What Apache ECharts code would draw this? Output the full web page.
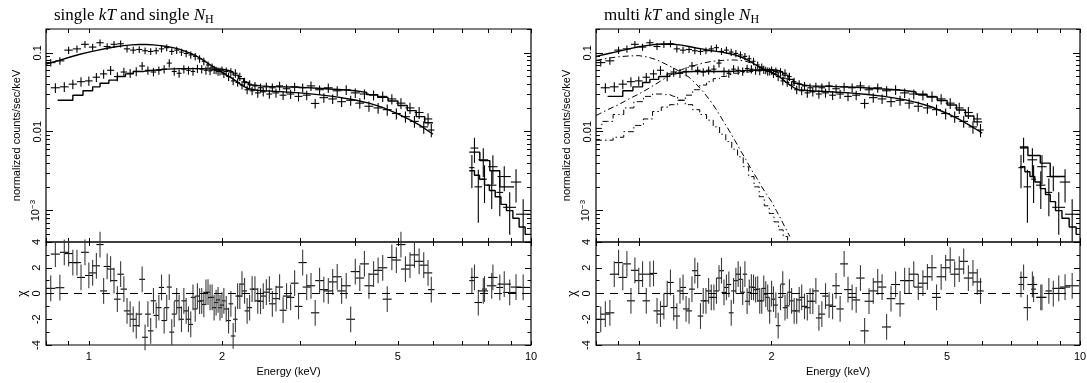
<!DOCTYPE html>
<html><head><meta charset="utf-8">
<script src="https://cdn.jsdelivr.net/npm/echarts@6/dist/echarts.min.js"></script>
<style>html,body{margin:0;padding:0;background:#fff}#c{width:1087px;height:383px}</style>
</head><body><div id="c"></div>
<script>
// ---------------- data ----------------
const panelTitles = ['single {i|kT} and single {i|N}{sub|H}', 'multi {i|kT} and single {i|N}{sub|H}'];

// data group A (brighter below 2 keV)
const energyA = [0.82,0.86,0.90,0.94,0.98,1.02,1.06,1.10,1.14,1.18,
  1.22,1.26,1.30,1.34,1.38,1.42,1.46,1.50,1.54,1.58,
  1.62,1.66,1.70,1.74,1.78,1.82,1.86,1.90,1.94,1.98,
  2.02,2.07,2.12,2.17,2.22,2.28,2.34,2.41,2.48,2.56,
  2.65,2.75,2.86,2.98,3.11,3.25,3.40,3.56,3.73,3.91,
  4.10,4.30,4.51,4.73,4.96,5.20,5.45,5.72,5.95];
const halfWidthA = [0.02,0.02,0.02,0.02,0.02,0.02,0.02,0.02,0.02,0.02,
  0.02,0.02,0.02,0.02,0.02,0.02,0.02,0.02,0.02,0.02,
  0.02,0.02,0.02,0.02,0.02,0.02,0.02,0.02,0.02,0.02,
  0.02,0.025,0.025,0.025,0.025,0.03,0.03,0.035,0.035,0.04,
  0.045,0.05,0.055,0.06,0.065,0.07,0.075,0.08,0.085,0.09,
  0.095,0.1,0.105,0.11,0.115,0.12,0.125,0.13,0.1];
const countsA = [0.075,0.079,0.108,0.112,0.128,0.118,0.134,0.12,0.128,0.13,
  0.112,0.108,0.11,0.106,0.104,0.106,0.112,0.116,0.104,0.108,
  0.102,0.098,0.094,0.09,0.084,0.078,0.07,0.066,0.06,0.058,
  0.054,0.05,0.044,0.042,0.039,0.034,0.033,0.031,0.032,0.03,
  0.031,0.029,0.03,0.028,0.029,0.0228,0.027,0.026,0.024,0.025,
  0.023,0.021,0.02,0.019,0.017,0.0155,0.0135,0.0115,0.0105];
const relErrA = [0.11,0.11,0.105,0.105,0.1,0.1,0.1,0.1,0.1,0.1,
  0.1,0.1,0.1,0.1,0.1,0.1,0.1,0.1,0.1,0.105,
  0.105,0.105,0.105,0.105,0.11,0.11,0.11,0.11,0.11,0.115,
  0.115,0.12,0.12,0.12,0.12,0.125,0.125,0.13,0.13,0.13,
  0.13,0.13,0.135,0.135,0.135,0.14,0.14,0.14,0.145,0.145,
  0.15,0.15,0.155,0.16,0.16,0.165,0.17,0.18,0.19];

// data group B (fainter below 2 keV)
const energyB = [0.84,0.88,0.92,0.96,1.00,1.04,1.08,1.12,1.16,1.20,
  1.24,1.28,1.32,1.36,1.40,1.44,1.48,1.52,1.56,1.60,
  1.64,1.68,1.72,1.76,1.80,1.84,1.88,1.92,1.96,2.00,
  2.045,2.095,2.145,2.195,2.25,2.31,2.375,2.445,2.52,2.60,
  2.70,2.80,2.92,3.045,3.18,3.325,3.48,3.645,3.82,4.005,
  4.2,4.405,4.62,4.845,5.08,5.325,5.585,5.85];
const halfWidthB = [0.02,0.02,0.02,0.02,0.02,0.02,0.02,0.02,0.02,0.02,
  0.02,0.02,0.02,0.02,0.02,0.02,0.02,0.02,0.02,0.02,
  0.02,0.02,0.02,0.02,0.02,0.02,0.02,0.02,0.02,0.02,
  0.0225,0.025,0.025,0.025,0.0275,0.03,0.0325,0.035,0.04,0.045,
  0.05,0.055,0.06,0.065,0.07,0.075,0.08,0.085,0.09,0.095,
  0.1,0.105,0.11,0.115,0.12,0.125,0.13,0.13];
const countsB = [0.036,0.037,0.04,0.043,0.044,0.049,0.054,0.06,0.05,0.057,
  0.055,0.058,0.068,0.06,0.057,0.06,0.062,0.074,0.058,0.055,
  0.062,0.06,0.058,0.063,0.062,0.06,0.059,0.061,0.058,0.06,
  0.058,0.057,0.055,0.05,0.043,0.04,0.038,0.036,0.037,0.036,
  0.038,0.035,0.037,0.036,0.038,0.034,0.036,0.033,0.034,0.031,
  0.03,0.029,0.028,0.026,0.023,0.02,0.0175,0.0145];
const relErrB = [0.14,0.14,0.14,0.135,0.135,0.13,0.13,0.13,0.13,0.13,
  0.13,0.13,0.12,0.12,0.12,0.12,0.12,0.12,0.12,0.12,
  0.12,0.12,0.12,0.12,0.12,0.12,0.12,0.12,0.12,0.12,
  0.12,0.12,0.12,0.12,0.12,0.125,0.125,0.13,0.13,0.13,
  0.13,0.13,0.13,0.13,0.135,0.135,0.135,0.14,0.14,0.14,
  0.145,0.145,0.15,0.15,0.155,0.16,0.17,0.18];

// high-energy bins (7-10 keV)
const energyAHi = [7.35,7.6,7.85,8.15,8.5,8.95,9.6];
const halfWidthAHi = [0.1,0.15,0.1,0.2,0.15,0.3,0.35];
const countsAHi = [0.0035,0.002,0.0025,0.0021,0.0017,0.0011,0.0009];
const relErrAHi = [0.45,0.65,0.5,0.5,0.5,0.55,0.55];
const energyBHi = [7.45,7.8,8.2,8.7,9.25];
const halfWidthBHi = [0.15,0.2,0.2,0.3,0.25];
const countsBHi = [0.0062,0.0044,0.0036,0.0027,0.0023];
const relErrBHi = [0.35,0.4,0.4,0.35,0.45];

// residuals (chi) for each panel
const chiSingleA = [0.4,0.45,3.1,2.4,3.2,1.6,3.8,2.1,1.0,1.5,
  -1.35,-2.0,-1.6,-3.4,-2.9,-1.7,0.47,-1.1,-3.0,-0.57,
  -2.0,-1.35,-2.4,-1.2,-0.6,-0.85,0.1,-0.3,-0.7,-1.1,
  -0.57,-2.1,-3.3,-0.2,0.73,-1.35,0.34,-0.57,-0.2,0.34,
  -0.4,-1.3,-0.3,-1.0,0.5,-1.5,0.3,0.9,0.2,-2.0,
  1.2,0.6,1.8,-0.44,2.6,1.9,3.0,2.2,0.3];
const chiSingleB = [3.06,3.2,2.4,1.25,1.4,2.15,0.2,1.9,-0.44,0.34,
  -1.6,-2.5,1.1,-1.6,-0.57,-1.1,-2.1,0.5,-1.6,-1.1,
  -0.57,-2.0,-0.3,-0.2,-0.57,0.08,-0.31,-1.1,-0.5,-0.9,
  -1.2,-0.8,-2.0,-0.2,0.2,-1.1,0.34,-0.6,0.1,-0.8,
  0.5,-0.2,0.8,2.4,0.6,1.0,0.2,1.3,0.6,1.7,
  2.3,1.5,2.0,2.8,3.8,2.2,2.5,1.6];
const chiSingleAHi = [1.0,-0.7,0.34,0.6,0.47,0.08,0.47];
const chiSingleBHi = [1.25,0.2,1.25,0.73,0.5];
const chiMultiA = [-2.0,-1.5,2.4,2.3,1.8,1.5,1.5,-1.35,-1.0,0.86,
  -1.75,0.47,-1.35,1.77,-1.75,-0.57,-0.3,0.2,1.77,0.47,
  -1.5,1.0,1.1,1.5,0.08,0.47,0.34,-0.57,-0.05,-1.35,
  -0.44,-2.5,0.73,-0.96,-0.57,-1.35,-0.3,-1.1,-0.6,-1.9,
  -0.2,-1.0,-1.2,0.3,-0.5,-2.9,0.2,0.5,-0.4,-0.8,
  1.0,0.5,1.3,-0.3,2.0,1.5,2.5,1.6,0.2];
const chiMultiB = [-1.6,1.5,1.25,-0.57,1.0,-0.57,1.56,-1.6,0.0,-1.1,
  0.2,-1.2,0.34,1.4,-0.57,0.2,-0.3,1.2,0.08,0.7,
  0.2,1.5,0.1,-0.6,0.5,0.3,-0.57,0.4,-0.3,0.0,
  -0.9,-0.3,-1.1,0.1,-1.35,-0.5,-1.0,-0.6,0.2,-1.6,
  -0.9,0.6,2.3,-0.3,1.2,-0.6,0.9,-2.6,0.7,1.0,
  1.5,0.8,2.0,1.3,2.6,1.9,1.2,0.9];
const chiMultiAHi = [0.7,-1.1,0.34,-0.3,0.2,0.4,0.6];
const chiMultiBHi = [1.25,0.7,-0.3,0.0,0.5];

// models
const modelEnergy = [0.80,0.85,0.90,0.95,1.00,1.05,1.10,1.15,1.20,1.25,
  1.30,1.35,1.40,1.45,1.50,1.55,1.60,1.65,1.70,1.75,
  1.80,1.85,1.90,1.95,2.00,2.05,2.10,2.15,2.20,2.25,
  2.30,2.40,2.50,2.70,3.00,3.30,3.60,4.00,4.30,4.60,5.00,5.30,5.60,5.90,6.00];
const singleModelA = [0.072,0.079,0.087,0.095,0.102,0.108,0.114,0.119,0.123,0.126,
  0.127,0.127,0.126,0.123,0.12,0.116,0.111,0.105,0.098,0.091,
  0.083,0.075,0.068,0.062,0.057,0.052,0.048,0.044,0.04,0.037,
  0.035,0.0335,0.033,0.0322,0.031,0.0295,0.0278,0.0252,0.023,0.0205,0.0168,0.0143,0.0121,0.0099,0.0093];
const multiModelA = [0.09,0.097,0.104,0.112,0.119,0.124,0.128,0.129,0.128,0.125,
  0.12,0.115,0.111,0.107,0.104,0.101,0.098,0.094,0.089,0.083,
  0.076,0.069,0.064,0.06,0.057,0.053,0.048,0.043,0.039,0.036,
  0.034,0.0333,0.0328,0.032,0.031,0.0296,0.028,0.0255,0.0232,0.0207,0.017,0.0145,0.0122,0.0102,0.0096];
const stepEdgesB = [0.85,0.92,0.97,1.02,1.06,1.11,1.16,1.21,1.26,1.33,
  1.40,1.50,1.60,1.70,1.80,1.90,2.00,2.06,2.12,2.18,
  2.24,2.30,2.36,2.45,2.55,2.70,2.90,3.10,3.30,3.50,
  3.75,4.00,4.25,4.50,4.75,5.00,5.25,5.50,5.75,6.00];
const singleModelB = [0.025,0.029,0.033,0.037,0.041,0.045,0.05,0.054,0.058,0.06,
  0.062,0.063,0.063,0.063,0.062,0.062,0.06,0.057,0.052,0.047,
  0.042,0.039,0.038,0.0375,0.037,0.0368,0.0362,0.0355,0.0348,0.034,
  0.033,0.0315,0.0295,0.0272,0.0245,0.0215,0.0185,0.0155,0.013];
const multiModelB = [0.028,0.033,0.037,0.042,0.046,0.05,0.054,0.057,0.058,0.058,
  0.058,0.058,0.059,0.06,0.061,0.061,0.06,0.057,0.052,0.046,
  0.041,0.039,0.038,0.0378,0.0375,0.037,0.0365,0.0358,0.035,0.0342,
  0.0332,0.0318,0.0298,0.0275,0.0248,0.0218,0.0188,0.0158,0.0133];
const singleHiEdgesA = [7.25,7.45,7.65,7.85,8.05,8.3,8.55,8.8,9.1,9.4,9.7,10.0];
const singleHiA = [0.0032,0.0028,0.0025,0.0021,0.0018,0.0015,0.0012,0.001,0.0008,0.00062,0.0005];
const multiHiEdgesA = [7.31,7.5,7.7,7.9,8.13,8.35,8.56,8.8,9.1,9.45,9.8,10.0];
const multiHiA = [0.0036,0.0031,0.0027,0.0023,0.0019,0.0016,0.0013,0.001,0.0008,0.00062,0.0005];
const singleHiEdgesB = [7.25,7.66,8.07,8.5,9.15];
const singleHiB = [0.0055,0.0043,0.0032,0.002];
const multiHiEdgesB = [7.31,7.62,8.13,8.56,9.25];
const multiHiB = [0.0064,0.005,0.004,0.0027];

// model components of the multi-kT fit
const compEnergy = [0.80,0.85,0.90,0.95,1.00,1.05,1.10,1.15,1.20,1.25,
  1.30,1.35,1.40,1.45,1.50,1.55,1.60,1.65,1.70,1.75,
  1.80,1.85,1.90,1.95,2.00,2.05,2.10,2.15,2.20];
const coolA = [0.08,0.085,0.089,0.091,0.092,0.088,0.081,0.072,0.064,0.056,
  0.049,0.04,0.032,0.025,0.019,0.014,0.0105,0.0078,0.0058,0.0044,
  0.0033,0.0026,0.002,0.0016,0.0013,0.001,0.00078,0.0006,0.00047];
const coolB = [0.011,0.0135,0.0165,0.02,0.024,0.028,0.03,0.0295,0.028,0.025,
  0.022,0.019,0.0165,0.014,0.0115,0.0093,0.0075,0.006,0.0048,0.0036,
  0.0027,0.002,0.0015,0.00115,0.00092,0.00072,0.00057,0.00047,0.00038];
const hotA = [0.016,0.019,0.022,0.026,0.03,0.035,0.041,0.048,0.055,0.061,
  0.066,0.07,0.074,0.077,0.079,0.08,0.081,0.081,0.08,0.078,
  0.074,0.068,0.063,0.059,0.056,0.052,0.048,0.043,0.039];
const hotB = [0.0078,0.0078,0.0085,0.01,0.012,0.0145,0.018,0.0205,0.022,0.025,
  0.029,0.034,0.039,0.043,0.047,0.05,0.053,0.055,0.056,0.057,
  0.058,0.059,0.06,0.06,0.059,0.056,0.052,0.047,0.043];

// axes
const X_MIN = 0.8, X_MAX = 10, Y_MIN = 4e-4, Y_MAX = 0.2, CHI_MIN = -4, CHI_MAX = 4;
const xTicks = [0.8,0.9,1,2,3,4,5,6,7,8,9,10];
const xLabels = [1,2,5,10];
const yMajor = [0.001,0.01,0.1];
const yMinor = [0.0004,0.0005,0.0006,0.0007,0.0008,0.0009,0.002,0.003,0.004,0.005,0.006,0.007,0.008,0.009,
  0.02,0.03,0.04,0.05,0.06,0.07,0.08,0.09,0.2];

// ---------------- chart ----------------
const FONT = "'Liberation Sans', Arial, sans-serif";
const SERIF = "'Liberation Serif', 'Times New Roman', serif";
const BLACK = '#000';
const L10 = v => Math.log10(v);

const panels = [
  {left: 46, width: 485, title: panelTitles[0], modelA: singleModelA, modelB: singleModelB,
   hiEdgesA: singleHiEdgesA, hiA: singleHiA, hiEdgesB: singleHiEdgesB, hiB: singleHiB,
   chiA: chiSingleA, chiB: chiSingleB, chiAHi: chiSingleAHi, chiBHi: chiSingleBHi, comps: false},
  {left: 596, width: 484, title: panelTitles[1], modelA: multiModelA, modelB: multiModelB,
   hiEdgesA: multiHiEdgesA, hiA: multiHiA, hiEdgesB: multiHiEdgesB, hiB: multiHiB,
   chiA: chiMultiA, chiB: chiMultiB, chiAHi: chiMultiAHi, chiBHi: chiMultiBHi, comps: true}
];
const TOP = 29, TOP_H = 213, BOT_H = 103;

const option = {animation: false, backgroundColor: '#fff', title: [], grid: [], xAxis: [], yAxis: [], series: []};
const tickLine = {color: BLACK, width: 1};
const labelFont = {color: BLACK, fontFamily: FONT, fontSize: 11};
const noLine = {show: false, onZero: false};

function addX(obj) { option.xAxis.push(obj); return option.xAxis.length - 1; }
function addY(obj) { option.yAxis.push(obj); return option.yAxis.length - 1; }

function xTickAxis(g, pos, withLabels) {
  return {type: 'value', gridIndex: g, position: pos, min: L10(X_MIN), max: L10(X_MAX),
    axisLine: noLine, splitLine: {show: false},
    axisTick: {show: true, inside: true, length: 4, customValues: xTicks.map(L10), lineStyle: tickLine},
    axisLabel: withLabels ? Object.assign({show: true, customValues: xLabels.map(L10), margin: 6,
      formatter: v => String(Math.round(Math.pow(10, v)))}, labelFont) : {show: false},
    name: withLabels ? 'Energy (keV)' : '', nameLocation: 'middle', nameGap: 21,
    nameTextStyle: labelFont};
}
function yLogTickAxis(g, pos, values, len, withLabels) {
  return {type: 'value', gridIndex: g, position: pos, min: L10(Y_MIN), max: L10(Y_MAX),
    axisLine: noLine, splitLine: {show: false},
    axisTick: {show: true, inside: true, length: len, customValues: values.map(L10), lineStyle: tickLine},
    axisLabel: withLabels ? Object.assign({show: true, customValues: values.map(L10), rotate: 90, margin: 3,
      formatter: v => (Math.round(v) === -1 ? '0.1' : Math.round(v) === -2 ? '0.01' : '10{sup|−3}'),
      rich: {sup: {fontSize: 8, fontFamily: FONT, color: BLACK, verticalAlign: 'top', padding: [0, 0, 6, 0]}}}, labelFont) : {show: false},
    name: withLabels ? 'normalized counts/sec/keV' : '', nameLocation: 'middle', nameGap: 24, nameRotate: 90,
    nameTextStyle: labelFont};
}
function chiAxis(g, pos, withLabels) {
  return {type: 'value', gridIndex: g, position: pos, min: CHI_MIN, max: CHI_MAX, interval: 2,
    axisLine: noLine, splitLine: {show: false},
    axisTick: {show: true, inside: true, length: 6, lineStyle: tickLine},
    minorTick: {show: true, splitNumber: 2, length: 3.5, lineStyle: tickLine},
    minorSplitLine: {show: false},
    axisLabel: withLabels ? Object.assign({show: true, rotate: 90, margin: 4}, labelFont) : {show: false},
    name: withLabels ? 'χ' : '', nameLocation: 'middle', nameGap: 17, nameRotate: 90,
    nameTextStyle: Object.assign({}, labelFont, {fontSize: 12})};
}

// logY: lower error end must stay positive on a log axis
function crossRender(logY, fixedErr, vColor) {
  return function (params, api) {
    const e = api.value(0), v = api.value(1), hw = api.value(2);
    const err = fixedErr != null ? fixedErr : api.value(3);
    const c = api.coord([e, v]);
    const l = api.coord([e - hw, v]), r = api.coord([e + hw, v]);
    let lo = v - err;
    if (logY && lo <= 0) lo = v * 1e-3;
    let t = api.coord([e, v + err])[1], b = api.coord([e, lo])[1];
    if (logY) {
      const cs = params.coordSys;
      t = Math.max(t, cs.y); b = Math.min(b, cs.y + cs.height);
    }
    return {type: 'group', children: [
      {type: 'line', shape: {x1: l[0], y1: c[1], x2: r[0], y2: c[1]}, style: {stroke: BLACK, lineWidth: 1.1}},
      {type: 'line', shape: {x1: c[0], y1: t, x2: c[0], y2: b}, style: {stroke: vColor || BLACK, lineWidth: 1.1}}
    ]};
  };
}
function crossRows(E, hw, y, rel) { return E.map((e, i) => [e, y[i], hw[i], y[i] * rel[i]]); }
function chiRows(E, hw, chi) { return E.map((e, i) => [e, chi[i], hw[i]]); }
function stepRows(edges, vals) { return edges.map((e, i) => [e, vals[Math.min(i, vals.length - 1)]]); }
function pairRows(E, vals) { return E.map((e, i) => [e, vals[i]]); }

panels.forEach((p, k) => {
  option.title.push({text: p.title, left: p.left + 3, top: 0,
    textStyle: {fontFamily: SERIF, fontSize: 17, fontWeight: 'normal', color: BLACK, lineHeight: 21,
      rich: {i: {fontFamily: SERIF, fontStyle: 'italic', fontSize: 17, color: BLACK, lineHeight: 21},
             sub: {fontFamily: SERIF, fontSize: 12, color: BLACK, verticalAlign: 'bottom', lineHeight: 13}}}});

  const gT = option.grid.length;
  option.grid.push({left: p.left, top: TOP, width: p.width, height: TOP_H, show: true,
    borderColor: BLACK, borderWidth: 1.2, backgroundColor: 'transparent', containLabel: false, outerBoundsMode: 'none'});
  const gB = option.grid.length;
  option.grid.push({left: p.left, top: TOP + TOP_H, width: p.width, height: BOT_H, show: true,
    borderColor: BLACK, borderWidth: 1.2, backgroundColor: 'transparent', containLabel: false, outerBoundsMode: 'none'});

  // top plot axes
  const xT = addX({type: 'log', gridIndex: gT, min: X_MIN, max: X_MAX, show: false, axisLine: noLine});
  addX(xTickAxis(gT, 'bottom', false));
  addX(xTickAxis(gT, 'top', false));
  const yT = addY({type: 'log', gridIndex: gT, min: Y_MIN, max: Y_MAX, show: false, axisLine: noLine});
  addY(yLogTickAxis(gT, 'left', yMajor, 7, true));
  addY(yLogTickAxis(gT, 'left', yMinor, 4, false));
  addY(yLogTickAxis(gT, 'right', yMajor, 7, false));
  addY(yLogTickAxis(gT, 'right', yMinor, 4, false));

  // residual axes
  const xB = addX({type: 'log', gridIndex: gB, min: X_MIN, max: X_MAX, show: false, axisLine: noLine});
  addX(xTickAxis(gB, 'bottom', true));
  addX(xTickAxis(gB, 'top', false));
  const yB = addY(chiAxis(gB, 'left', true));
  addY(chiAxis(gB, 'right', false));

  const lineBase = {type: 'line', xAxisIndex: xT, yAxisIndex: yT, showSymbol: false, symbol: 'none',
    silent: true, clip: true, z: 2};
  const solid = {color: BLACK, width: 1.4};

  // data crosses
  option.series.push({type: 'custom', xAxisIndex: xT, yAxisIndex: yT, silent: true, z: 3,
    renderItem: crossRender(true), encode: {x: 0, y: 1},
    data: crossRows(energyA, halfWidthA, countsA, relErrA).concat(crossRows(energyAHi, halfWidthAHi, countsAHi, relErrAHi))});
  option.series.push({type: 'custom', xAxisIndex: xT, yAxisIndex: yT, silent: true, z: 3,
    renderItem: crossRender(true), encode: {x: 0, y: 1},
    data: crossRows(energyB, halfWidthB, countsB, relErrB).concat(crossRows(energyBHi, halfWidthBHi, countsBHi, relErrBHi))});

  // models
  option.series.push(Object.assign({}, lineBase, {lineStyle: solid, data: pairRows(modelEnergy, p.modelA)}));
  option.series.push(Object.assign({}, lineBase, {lineStyle: solid, step: 'end', data: stepRows(stepEdgesB, p.modelB)}));
  option.series.push(Object.assign({}, lineBase, {lineStyle: solid, step: 'end', data: stepRows(p.hiEdgesA, p.hiA)}));
  option.series.push(Object.assign({}, lineBase, {lineStyle: solid, step: 'end', data: stepRows(p.hiEdgesB, p.hiB)}));

  if (p.comps) {
    const dashDot = {color: BLACK, width: 1, type: [6, 3, 1.5, 3]};
    option.series.push(Object.assign({}, lineBase, {lineStyle: dashDot, data: pairRows(compEnergy, coolA)}));
    option.series.push(Object.assign({}, lineBase, {lineStyle: dashDot, step: 'middle', data: pairRows(compEnergy, coolB)}));
    option.series.push(Object.assign({}, lineBase, {lineStyle: dashDot, data: pairRows(compEnergy, hotA)}));
    option.series.push(Object.assign({}, lineBase, {lineStyle: dashDot, step: 'middle', data: pairRows(compEnergy, hotB)}));
  }

  // residuals
  option.series.push({type: 'custom', xAxisIndex: xB, yAxisIndex: yB, silent: true, z: 3,
    renderItem: crossRender(false, 1, '#3a3a3a'), encode: {x: 0, y: 1},
    data: chiRows(energyA, halfWidthA, p.chiA).concat(chiRows(energyAHi, halfWidthAHi, p.chiAHi)),
    markLine: {silent: true, symbol: 'none', label: {show: false},
      lineStyle: {color: BLACK, width: 1, type: [8, 6]}, data: [{yAxis: 0}]}});
  option.series.push({type: 'custom', xAxisIndex: xB, yAxisIndex: yB, silent: true, z: 3,
    renderItem: crossRender(false, 1, '#3a3a3a'), encode: {x: 0, y: 1},
    data: chiRows(energyB, halfWidthB, p.chiB).concat(chiRows(energyBHi, halfWidthBHi, p.chiBHi))});
});

const chart = echarts.init(document.getElementById('c'), null, {renderer: 'canvas'});
chart.setOption(option);
</script></body></html>
